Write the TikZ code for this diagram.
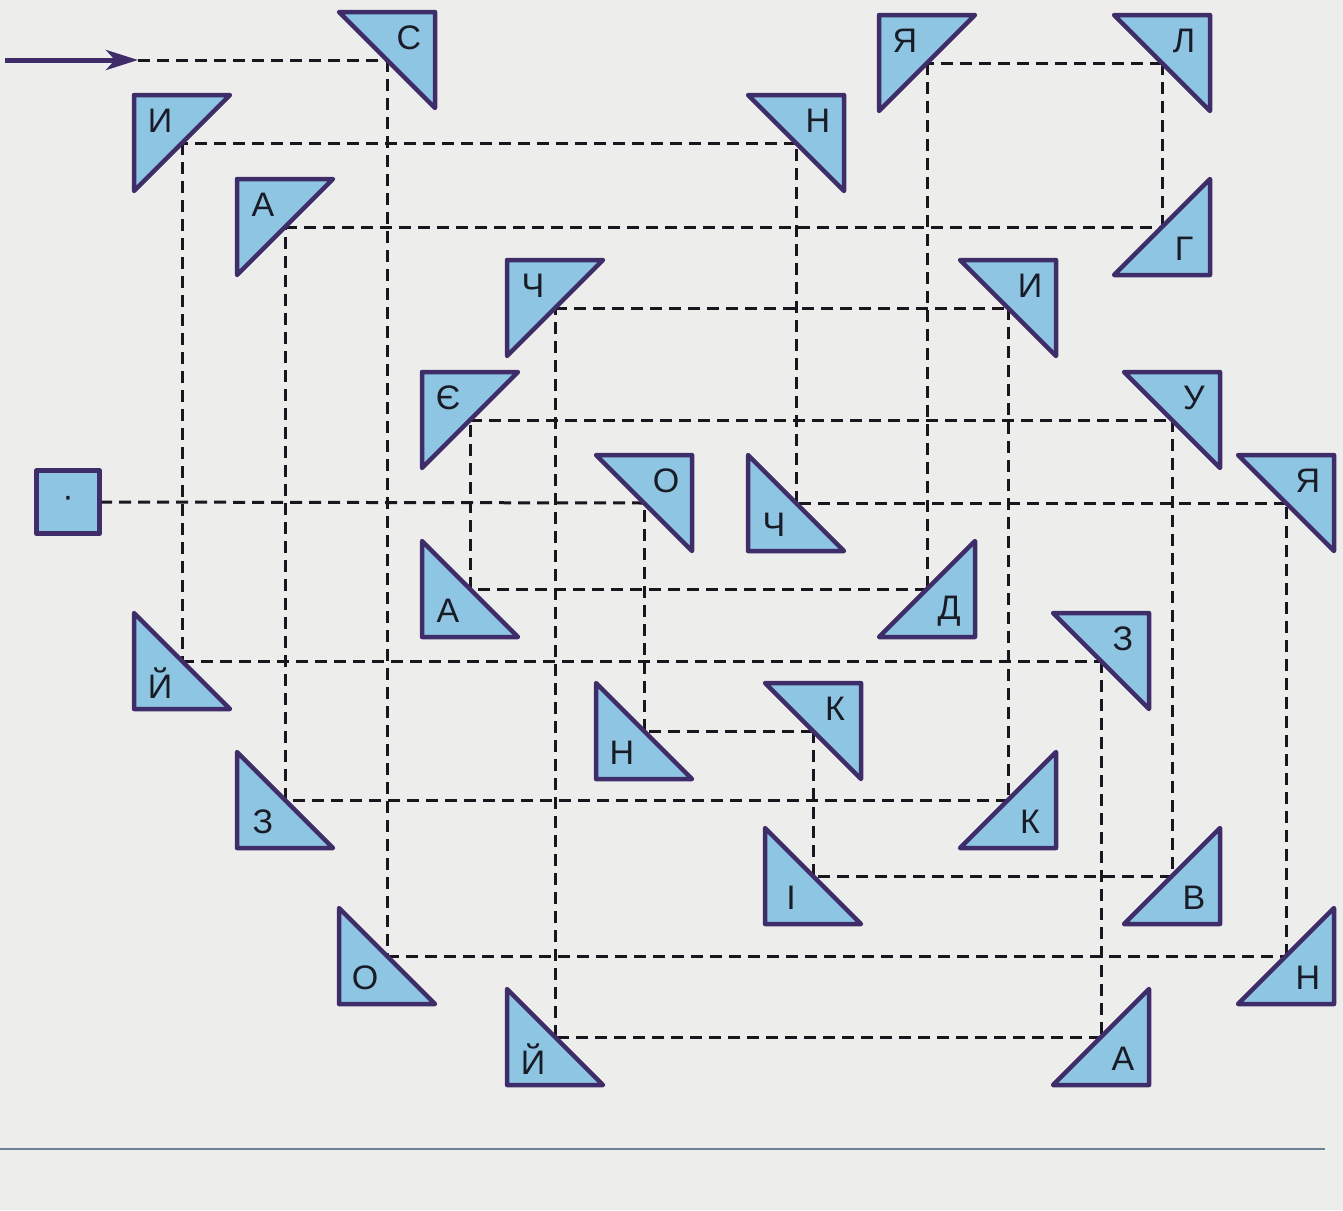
\documentclass[tikz,border=0pt]{standalone}
\usepackage{fontspec}
\setmainfont{Liberation Sans}
\usetikzlibrary{arrows.meta,calc}
\definecolor{bgc}{RGB}{237,238,235}
\definecolor{trifill}{RGB}{142,197,226}
\definecolor{triline}{RGB}{62,45,105}
\definecolor{lettc}{RGB}{25,27,38}
\definecolor{dashc}{RGB}{25,22,30}
\definecolor{rulec}{RGB}{110,130,150}
\tikzset{
  tri/.style={fill=trifill,draw=triline,line width=4.5pt,line join=round},
  lett/.style={text=lettc,font=\fontsize{34}{34}\selectfont,inner sep=0pt},
  dline/.style={draw=dashc,line width=3pt,dash pattern=on 12pt off 7pt},
  arr/.style={draw=triline,line width=5pt,-{Stealth[length=32pt,width=20pt,inset=9pt]}},
  sqr/.style={rectangle,fill=trifill,draw=triline,line width=4.5pt,line join=round,minimum size=63pt,inner sep=0pt,text=lettc,font=\fontsize{34}{34}\selectfont}
}
\newcommand{\mytri}[4]{%
  \begin{scope}[shift={(#1)},xscale=#2,yscale=#3]
    \draw[tri] (48,48) -- (48,-48) -- (-48,48) -- cycle;
  \end{scope}
  \node[lett] (#1l) at ([shift={(#2*22,#3*22)}]#1) {#4};
}
\begin{document}
\begin{tikzpicture}[x=1pt,y=-1pt]
\fill[bgc] (0,0) rectangle (1343,1210);
\useasboundingbox (0,0) rectangle (1343,1210);
% reflection points (hypotenuse midpoints)
\coordinate (S)  at (387,60);
\coordinate (Ya1) at (927,63);
\coordinate (L)  at (1162,63);
\coordinate (I1) at (182,143);
\coordinate (N1) at (796,143);
\coordinate (A1) at (285,227);
\coordinate (G)  at (1162,227);
\coordinate (Ch1) at (555,308);
\coordinate (I2) at (1008,308);
\coordinate (Ye) at (470,420);
\coordinate (U)  at (1172,420);
\coordinate (O1) at (644,503);
\coordinate (Ch2) at (796,503);
\coordinate (Ya2) at (1286,503);
\coordinate (A2) at (470,589);
\coordinate (D)  at (927,589);
\coordinate (Z1) at (1101,661);
\coordinate (J1) at (182,661);
\coordinate (N2) at (644,731);
\coordinate (K1) at (813,731);
\coordinate (Z2) at (285,800);
\coordinate (K2) at (1008,800);
\coordinate (Ii) at (813,876);
\coordinate (V)  at (1172,876);
\coordinate (O2) at (387,956);
\coordinate (N3) at (1286,956);
\coordinate (J2) at (555,1037);
\coordinate (A3) at (1101,1037);
\coordinate (a0) at (5,60);
\coordinate (a1) at (138,60);
\node[sqr] (sq) at (68,502) {·};
% bottom rule
\draw[rulec,line width=2pt] (0,1149) -- (1325,1149);
% path
\draw[arr] (a0) -- (a1);
\draw[dline] (a1) -- (S);
\draw[dline] (S) -- (O2);
\draw[dline] (O2) -- (N3);
\draw[dline] (N3) -- (Ya2);
\draw[dline] (Ya2) -- (Ch2);
\draw[dline] (Ch2) -- (N1);
\draw[dline] (N1) -- (I1);
\draw[dline] (I1) -- (J1);
\draw[dline] (J1) -- (Z1);
\draw[dline] (Z1) -- (A3);
\draw[dline] (A3) -- (J2);
\draw[dline] (J2) -- (Ch1);
\draw[dline] (Ch1) -- (I2);
\draw[dline] (I2) -- (K2);
\draw[dline] (K2) -- (Z2);
\draw[dline] (Z2) -- (A1);
\draw[dline] (A1) -- (G);
\draw[dline] (G) -- (L);
\draw[dline] (L) -- (Ya1);
\draw[dline] (Ya1) -- (D);
\draw[dline] (D) -- (A2);
\draw[dline] (A2) -- (Ye);
\draw[dline] (Ye) -- (U);
\draw[dline] (U) -- (V);
\draw[dline] (V) -- (Ii);
\draw[dline] (Ii) -- (K1);
\draw[dline] (K1) -- (N2);
\draw[dline] (N2) -- (O1);
\draw[dline] (O1) -- (sq.east);
% triangles
\mytri{S}{1}{-1}{С}
\mytri{Ya1}{-1}{-1}{Я}
\mytri{L}{1}{-1}{Л}
\mytri{I1}{-1}{-1}{И}
\mytri{N1}{1}{-1}{Н}
\mytri{A1}{-1}{-1}{А}
\mytri{G}{1}{1}{Г}
\mytri{Ch1}{-1}{-1}{Ч}
\mytri{I2}{1}{-1}{И}
\mytri{Ye}{-1}{-1}{Є}
\mytri{U}{1}{-1}{У}
\mytri{O1}{1}{-1}{О}
\mytri{Ch2}{-1}{1}{Ч}
\mytri{Ya2}{1}{-1}{Я}
\mytri{A2}{-1}{1}{А}
\mytri{D}{1}{1}{Д}
\mytri{Z1}{1}{-1}{З}
\mytri{J1}{-1}{1}{Й}
\mytri{N2}{-1}{1}{Н}
\mytri{K1}{1}{-1}{К}
\mytri{Z2}{-1}{1}{З}
\mytri{K2}{1}{1}{К}
\mytri{Ii}{-1}{1}{І}
\mytri{V}{1}{1}{В}
\mytri{O2}{-1}{1}{О}
\mytri{N3}{1}{1}{Н}
\mytri{J2}{-1}{1}{Й}
\mytri{A3}{1}{1}{А}
\end{tikzpicture}
\end{document}
